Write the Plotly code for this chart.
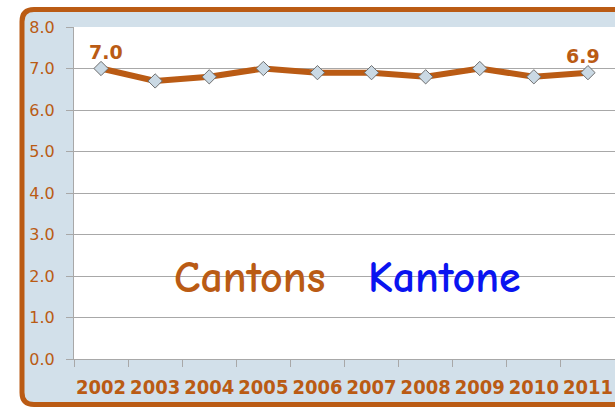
import plotly.graph_objects as go

years = ["2002", "2003", "2004", "2005", "2006", "2007", "2008", "2009", "2010", "2011"]
values = [7.0, 6.7, 6.8, 7.0, 6.9, 6.9, 6.8, 7.0, 6.8, 6.9]
labelled = [True, False, False, False, False, False, False, False, False, True]
y_ticks = [0, 1, 2, 3, 4, 5, 6, 7, 8]

ORANGE = "#BA5B14"
PANEL = "#D2E0EA"
GRID = "#A8A8A8"

fig = go.Figure()
fig.add_trace(go.Scatter(
    x=years, y=values,
    mode="lines+markers",
    line=dict(color=ORANGE, width=6),
    marker=dict(symbol="diamond", size=11, color="#CAD9E4",
                line=dict(color="#6E6E6E", width=1)),
    cliponaxis=False,
    hoverinfo="skip",
    showlegend=False,
))

# value labels on the first and last points (x given as category index)
last = len(values) - 1
for i, (v, show) in enumerate(zip(values, labelled)):
    if show:
        fig.add_annotation(x=i, y=v, xref="x", yref="y", text=f"{v:.1f}",
                           showarrow=False, xanchor="center", yanchor="bottom",
                           yshift=4, xshift=5 if i == 0 else (-5 if i == last else 0),
                           font=dict(family="DejaVu Sans", size=19, color=ORANGE,
                                     weight="bold"))

# rounded panel behind the chart (pixel offsets from the plot's lower-left corner)
fig.add_shape(
    type="path", xref="paper", yref="paper",
    xsizemode="pixel", ysizemode="pixel", xanchor=0, yanchor=0,
    path="M -52,-33.5 L -52,337.5 Q -52,349.5 -40,349.5 L 566,349.5 "
         "L 566,-45.5 L -40,-45.5 Q -52,-45.5 -52,-33.5 Z",
    fillcolor=PANEL, line=dict(color=ORANGE, width=5), layer="below",
)
# white plotting area on top of the panel
fig.add_shape(type="rect", xref="paper", yref="paper", x0=0, x1=1, y0=0, y1=1,
              fillcolor="white", line=dict(width=0), layer="below")

fig.add_annotation(x=0.325, y=0.245, xref="paper", yref="paper", text="Cantons",
                   showarrow=False, xanchor="center", yanchor="middle",
                   font=dict(family="Comic Sans MS, Comic Neue, Lato", size=44,
                             color=ORANGE, weight="bold"))
fig.add_annotation(x=0.685, y=0.245, xref="paper", yref="paper", text="Kantone",
                   showarrow=False, xanchor="center", yanchor="middle",
                   font=dict(family="Comic Sans MS, Comic Neue, Lato", size=44,
                             color="#0A14F0", weight="bold"))

fig.update_layout(
    width=615, height=408,
    margin=dict(l=74, r=0, t=27, b=49),
    paper_bgcolor="white",
    plot_bgcolor="white",
    xaxis=dict(
        type="category",
        tickson="boundaries",
        ticks="outside", ticklen=7, tickcolor=GRID,
        showgrid=False,
        showline=True, linecolor=GRID, linewidth=1,
        tickfont=dict(family="DejaVu Sans Condensed", size=20, color=ORANGE, weight="bold"),
        tickangle=0,
        ticklabelstandoff=10,
        automargin=False,
        range=[-0.5, 9.5],
        fixedrange=True,
    ),
    yaxis=dict(
        range=[0, 8],
        tickvals=y_ticks,
        ticktext=[f"{v:.1f}" for v in y_ticks],
        ticks="outside", ticklen=7, tickcolor=GRID,
        showgrid=True, gridcolor=GRID, gridwidth=1,
        showline=True, linecolor=GRID, linewidth=1,
        zeroline=False,
        tickfont=dict(family="DejaVu Sans", size=16, color=ORANGE),
        ticklabelstandoff=8,
        automargin=False,
        fixedrange=True,
    ),
)

fig.write_html("out.html")
